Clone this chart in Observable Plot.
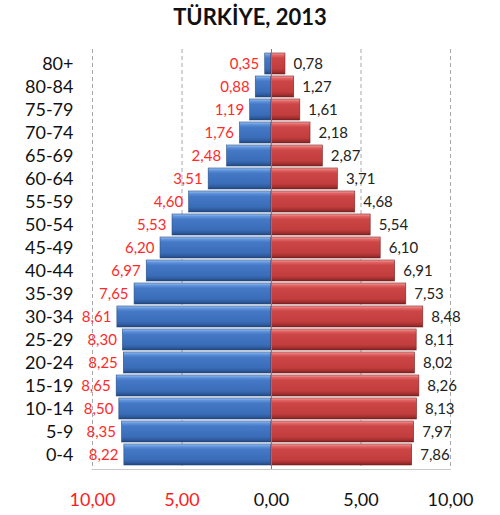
<!DOCTYPE html>
<html>
<head>
<meta charset="utf-8">
<script src="https://cdn.jsdelivr.net/npm/d3@7"></script>
<script src="https://cdn.jsdelivr.net/npm/@observablehq/plot@0.6"></script>
<style>
  body { margin: 0; background: #fff; font-family: Lato, "Open Sans", sans-serif; }
  #title { width: 500px; height: 40px; line-height: 34px; text-align: center; font-weight: bold; font-size: 22px; color: #111; }
</style>
</head>
<body>
<div id="title">TÜRKİYE, 2013</div>
<div id="chart"></div>
<script>
const ages = ["80+","80-84","75-79","70-74","65-69","60-64","55-59","50-54","45-49","40-44","35-39","30-34","25-29","20-24","15-19","10-14","5-9","0-4"];
const male = [0.35,0.88,1.19,1.76,2.48,3.51,4.60,5.53,6.20,6.97,7.65,8.61,8.30,8.25,8.65,8.50,8.35,8.22];
const female = [0.78,1.27,1.61,2.18,2.87,3.71,4.68,5.54,6.10,6.91,7.53,8.48,8.11,8.02,8.26,8.13,7.97,7.86];
const tickValues = [-10,-5,0,5,10];
const tickLabels = ["10,00","5,00","0,00","5,00","10,00"];

const fmt = v => d3.format(".2f")(v).replace(".", ",");
const rows = ages.map((a, i) => ({age: a, male: male[i], female: female[i]}));
const ticks = tickValues.map((v, i) => ({v, label: tickLabels[i]}));

const chart = Plot.plot({
  width: 500,
  height: 475,
  marginTop: 9,
  marginBottom: 46,
  marginLeft: 92,
  marginRight: 50,
  style: {fontFamily: "Lato, 'Open Sans', sans-serif", background: "#fff"},
  x: {domain: [-10, 10], axis: null},
  y: {domain: ages, padding: 0.07, label: null},
  marks: [
    Plot.ruleX([-10, -5, 5, 10], {stroke: "#a8a8a8", strokeDasharray: "4,3", strokeWidth: 1}),
    Plot.frame({anchor: "bottom", stroke: "#c8c8c8"}),
    Plot.barX(rows, {y: "age", x1: d => -d.male, x2: 0, fill: "url(#gBlue)", stroke: "#2a4f86", strokeWidth: 0.6}),
    Plot.barX(rows, {y: "age", x1: 0, x2: "female", fill: "url(#gRed)", stroke: "#7d2222", strokeWidth: 0.6}),
    Plot.ruleX([0], {stroke: "#6d7f95", strokeWidth: 1}),
    Plot.text(rows, {y: "age", x: d => -d.male, text: d => fmt(d.male), textAnchor: "end", dx: -6, fill: "#ff2a2a", fontSize: 15}),
    Plot.text(rows, {y: "age", x: "female", text: d => fmt(d.female), textAnchor: "start", dx: 8, fill: "#222", fontSize: 15}),
    Plot.axisY({tickSize: 0, tickPadding: 19, fontSize: 18, fill: "#111", label: null}),
    Plot.text(ticks, {x: "v", frameAnchor: "bottom", dy: 36, text: "label", fill: d => d.v < 0 ? "#ff1a1a" : "#111", fontSize: 18})
  ]
});

const svg = d3.select(chart);
const defs = svg.insert("defs", ":first-child");
function grad(id, stops) {
  const g = defs.append("linearGradient").attr("id", id).attr("x1", 0).attr("y1", 0).attr("x2", 0).attr("y2", 1);
  stops.forEach(([o, c]) => g.append("stop").attr("offset", o).attr("stop-color", c));
}
grad("gBlue", [[0, "#9cc2f0"], [0.12, "#5f93db"], [0.25, "#4579c6"], [0.75, "#3a6db8"], [0.9, "#2d5a9c"], [1, "#1f4277"]]);
grad("gRed", [[0, "#f5a0a0"], [0.12, "#e06262"], [0.25, "#cc4646"], [0.75, "#c23d3d"], [0.9, "#a32f2f"], [1, "#7a1f1f"]]);

document.getElementById("chart").appendChild(chart);
</script>
</body>
</html>
